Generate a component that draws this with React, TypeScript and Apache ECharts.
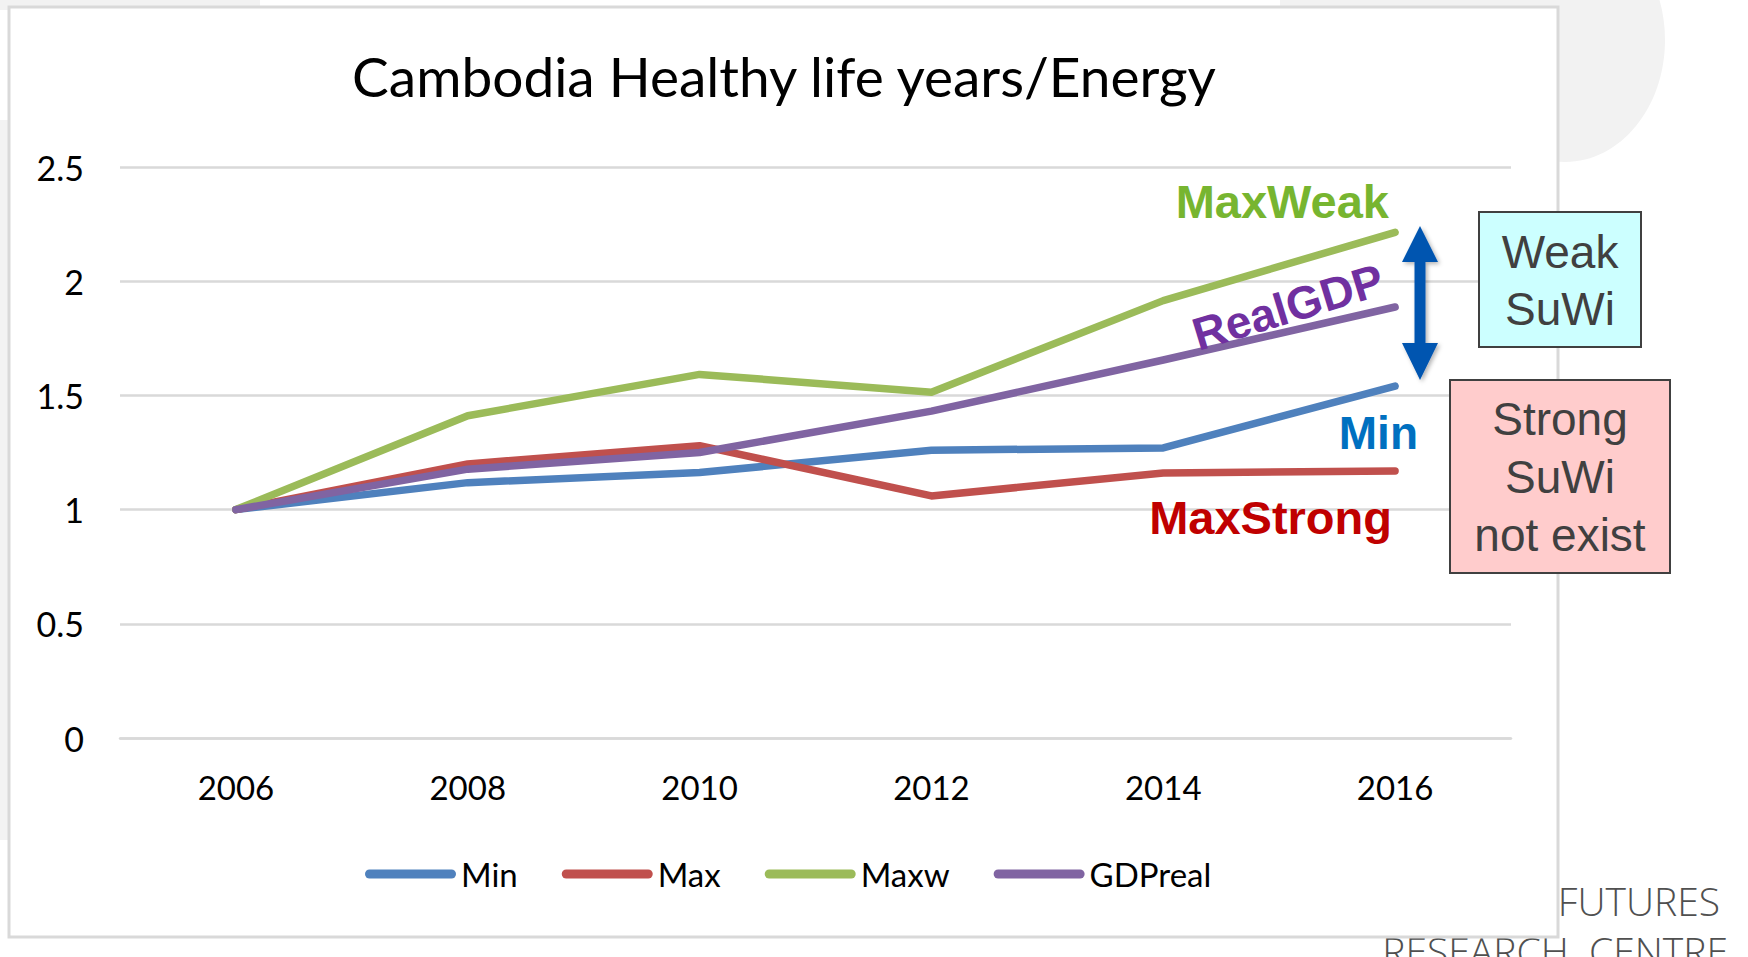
import React, { useEffect, useRef } from "react";
import * as echarts from "echarts";

const years = ["2006", "2008", "2010", "2012", "2014", "2016"];
const minVals = [1.0, 1.118, 1.162, 1.26, 1.27, 1.541];
const maxVals = [1.0, 1.2, 1.28, 1.06, 1.16, 1.169];
const maxwVals = [1.0, 1.411, 1.592, 1.514, 1.915, 2.214];
const gdpVals = [1.0, 1.177, 1.25, 1.431, 1.655, 1.887];
const seriesNames = ["Min", "Max", "Maxw", "GDPreal"];
const seriesColors = ["#4F81BD", "#C0504D", "#9BBB59", "#8064A2"];

const titleText = "Cambodia Healthy life years/Energy";

const legendIcon =
  "path://M4.5,0 H86.5 A4.5,4.5 0 0 1 86.5,9 H4.5 A4.5,4.5 0 0 1 4.5,0 Z";

const annoFont = "'Liberation Sans', Arial, sans-serif";

export default function App() {
  const ref = useRef<HTMLDivElement>(null);
  useEffect(() => {
    const chart = echarts.init(ref.current!, null, { renderer: "svg" });
    const data = [minVals, maxVals, maxwVals, gdpVals];
    const option: any = {
      animation: false,
      backgroundColor: "#ffffff",
      grid: { left: 120, right: 237, top: 167, bottom: 219, containLabel: false },
      xAxis: {
        type: "category",
        data: years,
        boundaryGap: true,
        axisLine: { show: true, lineStyle: { color: "#D9D9D9", width: 2.5 } },
        axisTick: { show: false },
        axisLabel: {
          color: "#000",
          fontFamily: "Lato",
          fontSize: 33,
          margin: 32,
        },
        splitLine: { show: false },
      },
      yAxis: {
        type: "value",
        min: 0,
        max: 2.5,
        interval: 0.5,
        axisLine: { show: false },
        axisTick: { show: false },
        axisLabel: {
          color: "#000",
          fontFamily: "Lato",
          fontSize: 34,
          margin: 36,
        },
        splitLine: { show: true, lineStyle: { color: "#D9D9D9", width: 2.5 } },
      },
      legend: {
        left: 360,
        top: 849,
        itemWidth: 91,
        itemHeight: 9,
        itemGap: 44,
        icon: legendIcon,
        textStyle: {
          color: "#000",
          fontFamily: "Lato",
          fontSize: 33,
          lineHeight: 40,
        },
        data: seriesNames,
      },
      series: seriesNames.map((name, i) => ({
        name,
        type: "line",
        data: data[i],
        symbol: "none",
        color: seriesColors[i],
        lineStyle: { width: 7.5, color: seriesColors[i], cap: "round", join: "round" },
        itemStyle: { color: seriesColors[i] },
        z: 2 + i,
      })),
      graphic: {
        elements: [
          // background decorations
          { type: "ellipse", z: -30, silent: true, shape: { cx: 1565, cy: 40, rx: 100, ry: 122 }, style: { fill: "#F2F2F2" } },
          { type: "rect", z: -30, silent: true, shape: { x: 0, y: 0, width: 260, height: 10 }, style: { fill: "#F2F2F2" } },
          { type: "rect", z: -30, silent: true, shape: { x: 1280, y: 0, width: 300, height: 10 }, style: { fill: "#F2F2F2" } },
          { type: "rect", z: -30, silent: true, shape: { x: 0, y: 120, width: 9, height: 720 }, style: { fill: "#F3F3F3" } },
          {
            type: "text", z: -20, silent: true, x: 1720, y: 900,
            style: { text: "FUTURES", fill: "#505050", font: "300 39px 'Open Sans', sans-serif", align: "right", verticalAlign: "middle" },
          },
          {
            type: "text", z: -20, silent: true, x: 1728, y: 950,
            style: { text: "RESEARCH  CENTRE", fill: "#505050", font: "300 39px 'Open Sans', sans-serif", align: "right", verticalAlign: "middle" },
          },
          // chart frame
          {
            type: "rect", z: -10, silent: true,
            shape: { x: 9, y: 7, width: 1549, height: 930 },
            style: { fill: "#ffffff", stroke: "#D9D9D9", lineWidth: 3 },
          },
          // title
          {
            type: "text", z: 50, x: 784, y: 76,
            style: { text: titleText, fill: "#000", font: "55px Lato, sans-serif", align: "center", verticalAlign: "middle" },
          },
          // annotations
          {
            type: "text", z: 100, x: 1389, y: 201,
            style: { text: "MaxWeak", fill: "#77B530", font: `bold 47px ${annoFont}`, align: "right", verticalAlign: "middle" },
          },
          {
            type: "text", z: 100, x: 1288, y: 307, rotation: (17 * Math.PI) / 180,
            style: { text: "RealGDP", fill: "#7030A0", font: `bold 46px ${annoFont}`, align: "center", verticalAlign: "middle" },
          },
          {
            type: "text", z: 100, x: 1418, y: 433,
            style: { text: "Min", fill: "#0070C0", font: `bold 46px ${annoFont}`, align: "right", verticalAlign: "middle" },
          },
          {
            type: "text", z: 100, x: 1392, y: 517,
            style: { text: "MaxStrong", fill: "#C00000", font: `bold 47px ${annoFont}`, align: "right", verticalAlign: "middle" },
          },
          // double arrow
          {
            type: "polygon", z: 100,
            shape: {
              points: [
                [1420, 226], [1438, 262], [1425.5, 262], [1425.5, 343], [1438, 343],
                [1420, 380], [1402, 343], [1414.5, 343], [1414.5, 262], [1402, 262],
              ],
            },
            style: { fill: "#0055B0", shadowColor: "rgba(0,0,0,0.3)", shadowBlur: 4, shadowOffsetX: 2, shadowOffsetY: 2 },
          },
          // Weak SuWi box
          {
            type: "rect", z: 100,
            shape: { x: 1479, y: 212, width: 162, height: 135 },
            style: { fill: "#CCFFFF", stroke: "#404040", lineWidth: 2 },
          },
          {
            type: "text", z: 101, x: 1560, y: 252,
            style: { text: "Weak", fill: "#404040", font: `46px ${annoFont}`, align: "center", verticalAlign: "middle" },
          },
          {
            type: "text", z: 101, x: 1560, y: 309,
            style: { text: "SuWi", fill: "#404040", font: `46px ${annoFont}`, align: "center", verticalAlign: "middle" },
          },
          // Strong SuWi box
          {
            type: "rect", z: 100,
            shape: { x: 1450, y: 380, width: 220, height: 193 },
            style: { fill: "#FFCCCC", stroke: "#404040", lineWidth: 2 },
          },
          {
            type: "text", z: 101, x: 1560, y: 419,
            style: { text: "Strong", fill: "#404040", font: `46px ${annoFont}`, align: "center", verticalAlign: "middle" },
          },
          {
            type: "text", z: 101, x: 1560, y: 477,
            style: { text: "SuWi", fill: "#404040", font: `46px ${annoFont}`, align: "center", verticalAlign: "middle" },
          },
          {
            type: "text", z: 101, x: 1560, y: 535,
            style: { text: "not exist", fill: "#404040", font: `46px ${annoFont}`, align: "center", verticalAlign: "middle" },
          },
        ],
      },
    };
    chart.setOption(option);
    return () => chart.dispose();
  }, []);
  return (
    <div
      ref={ref}
      style={{ position: "fixed", left: 0, top: 0, width: 1748, height: 957, background: "#fff" }}
    />
  );
}
